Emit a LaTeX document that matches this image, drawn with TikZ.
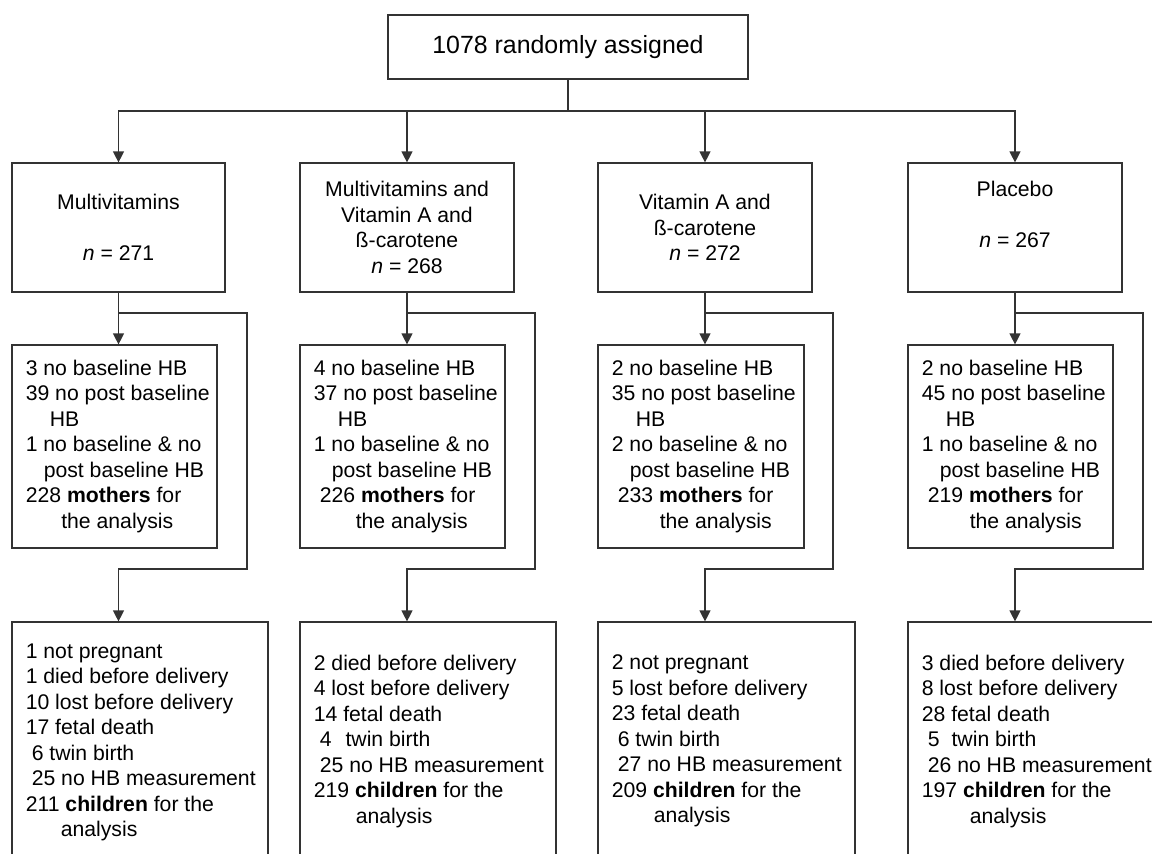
\documentclass[tikz,border=0pt]{standalone}
\usepackage{fontspec}
\setmainfont{Liberation Sans}
\usetikzlibrary{arrows.meta}

\begin{document}
\begin{tikzpicture}[x=0.5pt, y=-0.5pt]
    \tikzset{box/.style={rectangle, draw=black!80, line width=0.6pt, fill=white, inner sep=0pt}}
    \tikzset{line/.style={draw=black!80, line width=0.6pt}}
    \tikzset{arr/.style={line, -{Triangle[width=5.5pt,length=5.5pt]}}}
    \tikzset{grp/.style={align=center, font=\fontsize{10.6}{12.75}\selectfont}}
    \tikzset{txt/.style={inner sep=0pt, align=left, font=\fontsize{10.6}{12.75}\selectfont}}
    \clip (0,0) rectangle (1152,853);

    \node[box, minimum width=180pt, minimum height=32pt, font=\fontsize{12.45}{15}\selectfont] (rand) at (568,47) {1078 randomly assigned};

    \node[box, grp, minimum width=106.5pt, minimum height=64.5pt] (multi) at (118.5,227.5) {Multivitamins\\[12.75pt]\textit{n} = 271};
    \node[box, grp, minimum width=107pt, minimum height=64.5pt] (mavb) at (407,227.5) {Multivitamins and\\ Vitamin A and\\ ß-carotene\\ \textit{n} = 268};
    \node[box, grp, minimum width=107pt, minimum height=64.5pt] (avb) at (705,227.5) {Vitamin A and\\ ß-carotene\\ \textit{n} = 272};
    \node[box, grp, minimum width=107pt, minimum height=64.5pt] (plac) at (1015,227.5) {Placebo\\[12.75pt]\textit{n} = 267\\ \mbox{}};

    \node[box, minimum width=102.5pt, minimum height=101.5pt] (mom1) at (114.5,446.5) {};
    \node[box, minimum width=102.5pt, minimum height=101.5pt] (mom2) at (402.5,446.5) {};
    \node[box, minimum width=103pt, minimum height=101.5pt] (mom3) at (701,446.5) {};
    \node[box, minimum width=102.5pt, minimum height=101.5pt] (mom4) at (1010.5,446.5) {};

    \node[box, minimum width=128pt, minimum height=129pt] (kid1) at (140,751) {};
    \node[box, minimum width=128pt, minimum height=129pt] (kid2) at (428,751) {};
    \node[box, minimum width=128.5pt, minimum height=129pt] (kid3) at (726.5,751) {};
    \node[box, minimum width=128.5pt, minimum height=129pt] (kid4) at (1036.5,751) {};

    % mothers
    \node[txt, anchor=west] (mom1t) at ([xshift=7pt]mom1.west) {3 no baseline HB\\ 39 no post baseline\\ \hspace*{12pt}HB\\ 1 no baseline \& no\\ \hspace*{9pt}post baseline HB\\ 228 \textbf{mothers} for\\ \hspace*{17.75pt}the analysis};
    \node[txt, anchor=west] (mom2t) at ([xshift=7pt]mom2.west) {4 no baseline HB\\ 37 no post baseline\\ \hspace*{12pt}HB\\ 1 no baseline \& no\\ \hspace*{9pt}post baseline HB\\ \hspace*{3pt}226 \textbf{mothers} for\\ \hspace*{21pt}the analysis};
    \node[txt, anchor=west] (mom3t) at ([xshift=7pt]mom3.west) {2 no baseline HB\\ 35 no post baseline\\ \hspace*{12pt}HB\\ 2 no baseline \& no\\ \hspace*{9pt}post baseline HB\\ \hspace*{3pt}233 \textbf{mothers} for\\ \hspace*{24pt}the analysis};
    \node[txt, anchor=west] (mom4t) at ([xshift=7pt]mom4.west) {2 no baseline HB\\ 45 no post baseline\\ \hspace*{12pt}HB\\ 1 no baseline \& no\\ \hspace*{9pt}post baseline HB\\ \hspace*{3pt}219 \textbf{mothers} for\\ \hspace*{24pt}the analysis};

    % children
    \node[txt, anchor=north west] (kid1t) at ([xshift=7pt, yshift=-11pt]kid1.north west) {1 not pregnant\\ 1 died before delivery\\ 10 lost before delivery\\ 17 fetal death\\ \hspace*{3pt}6 twin birth\\ \hspace*{3pt}25 no HB measurement\\ 211 \textbf{children} for the\\ \hspace*{17.5pt}analysis};
    \node[txt, anchor=north west] (kid2t) at ([xshift=7pt, yshift=-16.5pt]kid2.north west) {2 died before delivery\\ 4 lost before delivery\\ 14 fetal death\\ \hspace*{3pt}4\hspace{7pt}twin birth\\ \hspace*{3pt}25 no HB measurement\\ 219 \textbf{children} for the\\ \hspace*{21pt}analysis};
    \node[txt, anchor=north west] (kid3t) at ([xshift=7pt, yshift=-16.5pt]kid3.north west) {2 not pregnant\\ 5 lost before delivery\\ 23 fetal death\\ \hspace*{3pt}6 twin birth\\ \hspace*{3pt}27 no HB measurement\\ 209 \textbf{children} for the\\ \hspace*{21pt}analysis};
    \node[txt, anchor=north west] (kid4t) at ([xshift=7pt, yshift=-16.5pt]kid4.north west) {3 died before delivery\\ 8 lost before delivery\\ 28 fetal death\\ \hspace*{3pt}5\hspace{6pt}twin birth\\ \hspace*{3pt}26 no HB measurement\\ 197 \textbf{children} for the\\ \hspace*{24pt}analysis};

    % randomisation split
    \coordinate (split) at (568,111);
    \draw[line] (rand) -- (split);
    \draw[arr] (split) -| (multi);
    \draw[arr] (split) -| (mavb);
    \draw[arr] (split) -| (avb);
    \draw[arr] (split) -| (plac);

    % bypass corners
    \coordinate (top1) at (247,313);
    \coordinate (bot1) at (247,569);
    \coordinate (top2) at (535,313);
    \coordinate (bot2) at (535,569);
    \coordinate (top3) at (833,313);
    \coordinate (bot3) at (833,569);
    \coordinate (top4) at (1143,313);
    \coordinate (bot4) at (1143,569);

    \draw[arr] (multi) -- (multi.south |- mom1.north);
    \draw[arr] (multi.south |- top1) -- (top1) -- (bot1) -- (multi.south |- bot1) -- (multi.south |- kid1.north);
    \draw[arr] (mavb) -- (mavb.south |- mom2.north);
    \draw[arr] (mavb.south |- top2) -- (top2) -- (bot2) -- (mavb.south |- bot2) -- (mavb.south |- kid2.north);
    \draw[arr] (avb) -- (avb.south |- mom3.north);
    \draw[arr] (avb.south |- top3) -- (top3) -- (bot3) -- (avb.south |- bot3) -- (avb.south |- kid3.north);
    \draw[arr] (plac) -- (plac.south |- mom4.north);
    \draw[arr] (plac.south |- top4) -- (top4) -- (bot4) -- (plac.south |- bot4) -- (plac.south |- kid4.north);
\end{tikzpicture}
\end{document}
